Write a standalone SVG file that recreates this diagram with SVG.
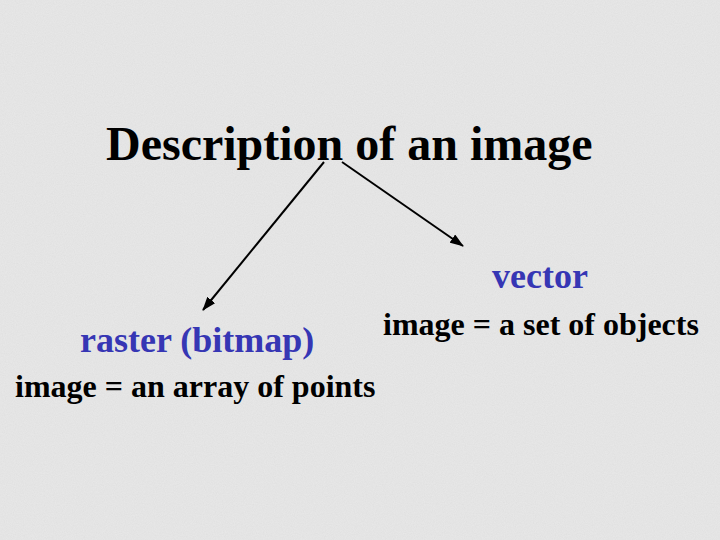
<svg xmlns="http://www.w3.org/2000/svg" width="720" height="540" viewBox="0 0 720 540">
<style>
text{font-family:'Liberation Serif','Times New Roman','DejaVu Serif',serif;font-weight:bold;}
.title{font-size:48px;fill:#000;}
.blue{font-size:36px;fill:#3636B4;}
.desc{font-size:32px;fill:#000;}
.conn{stroke:#000;stroke-width:2;fill:none;marker-end:url(#ah);}
</style>
<defs>
<marker id="ah" viewBox="0 0 14 10" refX="13" refY="5" markerWidth="14" markerHeight="10" markerUnits="userSpaceOnUse" orient="auto">
<path d="M0,0 L14,5 L0,10 z" fill="#000"/>
</marker>
<filter id="noise" x="0" y="0" width="100%" height="100%">
<feTurbulence type="fractalNoise" baseFrequency="0.9" numOctaves="2" seed="3"/>
<feColorMatrix type="matrix" values="0 0 0 0 0.55  0 0 0 0 0.55  0 0 0 0 0.55  0 0 0 0.5 0"/>
</filter>
</defs>
<rect width="720" height="540" fill="#e9e9e9"/>
<rect width="720" height="540" filter="url(#noise)" opacity="0.5"/>
<g id="title"><text class="title" x="106" y="160" font-family="Liberation Serif, serif">Description of an image</text></g>
<g id="raster">
<text class="blue" x="80" y="352" font-family="Liberation Serif, serif">raster (bitmap)</text>
<text class="desc" x="15" y="397" font-family="Liberation Serif, serif">image = an array of points</text>
</g>
<g id="vector">
<text class="blue" x="492" y="288" font-family="Liberation Serif, serif">vector</text>
<text class="desc" x="383" y="335" font-family="Liberation Serif, serif">image = a set of objects</text>
</g>
<g id="connectors">
<line class="conn" x1="324" y1="162" x2="203" y2="310"/>
<line class="conn" x1="342" y1="162" x2="463" y2="246"/>
</g>
</svg>
